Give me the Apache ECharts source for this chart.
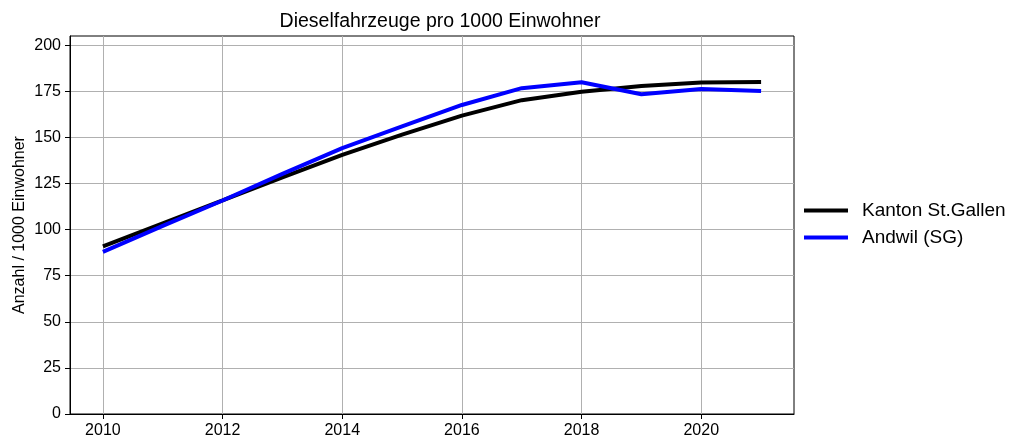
<!DOCTYPE html>
<html>
<head>
<meta charset="utf-8">
<script src="https://cdn.jsdelivr.net/npm/echarts@6/dist/echarts.min.js"></script>
<style>
  html, body { margin: 0; padding: 0; background: #fff; }
  #main { width: 1012px; height: 439px; }
</style>
</head>
<body>
<div id="main"></div>
<script>
    // Daten
    var years = [2010, 2011, 2012, 2013, 2014, 2015, 2016, 2017, 2018, 2019, 2020, 2021]
    var kanton = [90.9, 103.4, 115.8, 128.3, 140.5, 151.5, 161.8, 170.2, 174.8, 177.9, 179.8, 180.0]
    var andwil = [87.9, 102.0, 115.8, 130.2, 144.2, 156.0, 167.6, 176.7, 179.9, 173.4, 176.2, 175.2]
    var xTicks = [2010, 2012, 2014, 2016, 2018, 2020]
    var yTicks = [0, 25, 50, 75, 100, 125, 150, 175, 200]

    var myChart = echarts.init(document.getElementById('main'))

    function pairs(vals) {
        return years.map(function (y, i) { return [y, vals[i]] })
    }

    var font = 'Liberation Sans, Arial, sans-serif'

    var option = {
        animation: false,
        title: {
            text: 'Dieselfahrzeuge pro 1000 Einwohner',
            left: 435,
            textAlign: 'center',
            top: 7,
            textStyle: { fontFamily: font, fontSize: 19.5, fontWeight: 'normal', color: '#000' }
        },
        legend: {
            orient: 'vertical',
            left: 799,
            top: 196,
            itemWidth: 44,
            itemHeight: 4,
            itemGap: 8,
            icon: 'rect',
            textStyle: { fontFamily: font, fontSize: 19, color: '#000', padding: [0, 0, 0, 9] },
            data: ['Kanton St.Gallen', 'Andwil (SG)']
        },
        grid: {
            left: 70, right: 218, top: 36, bottom: 24.5,
            show: true, borderColor: '#000', borderWidth: 1
        },
        xAxis: {
            type: 'value',
            min: 2009.45,
            max: 2021.55,
            axisLine: { show: true, onZero: false, lineStyle: { color: '#000' } },
            axisTick: { show: true, length: 5, lineStyle: { color: '#000' }, customValues: xTicks },
            axisLabel: {
                customValues: xTicks, color: '#000', fontFamily: font, fontSize: 16, margin: 9,
                formatter: function (v) { return String(v) }
            },
            splitLine: { show: true, lineStyle: { color: '#b0b0b0', width: 1 } }
        },
        yAxis: {
            type: 'value',
            min: 0,
            max: 205,
            name: 'Anzahl / 1000 Einwohner',
            nameLocation: 'middle',
            nameGap: 42,
            nameMoveOverlap: false,
            nameTextStyle: { fontFamily: font, fontSize: 16, color: '#000' },
            axisLine: { show: true, lineStyle: { color: '#000' } },
            axisTick: { show: true, length: 5, lineStyle: { color: '#000' }, customValues: yTicks },
            axisLabel: { customValues: yTicks, color: '#000', fontFamily: font, fontSize: 16, margin: 9 },
            splitLine: { show: true, lineStyle: { color: '#b0b0b0', width: 1 } }
        },
        series: [
            {
                name: 'Kanton St.Gallen',
                type: 'line',
                data: pairs(kanton),
                showSymbol: false,
                z: 3,
                itemStyle: { color: '#000' },
                lineStyle: { color: '#000', width: 4 }
            },
            {
                name: 'Andwil (SG)',
                type: 'line',
                data: pairs(andwil),
                showSymbol: false,
                z: 4,
                itemStyle: { color: '#0000ff' },
                lineStyle: { color: '#0000ff', width: 4 }
            }
        ]
    }

    myChart.setOption(option)
</script>
</body>
</html>
